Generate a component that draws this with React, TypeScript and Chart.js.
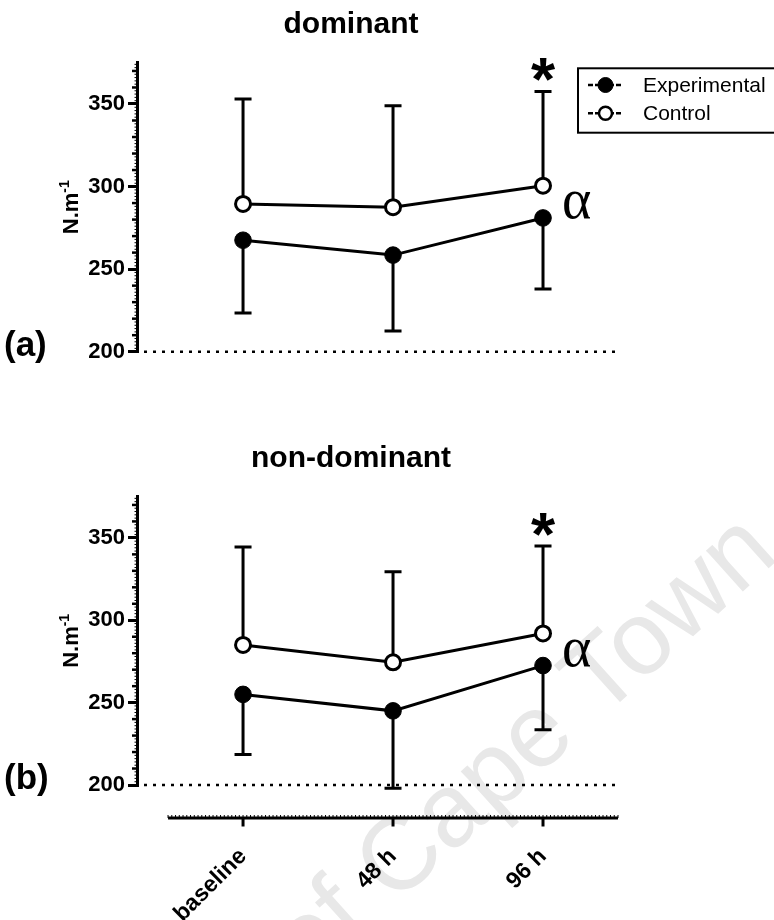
import React, { useEffect, useRef } from "react";
import { Chart, registerables } from "chart.js";
Chart.register(...registerables);

// ---------- data ----------
const categories = ["baseline", "48 h", "96 h"];
const yTickValues = [200, 250, 300, 350];
const seriesNames = ["Experimental", "Control"];

const domExperimental = [267.5, 258.5, 281];
const domExperimentalErr = [44, 46, 43];
const domControl = [289.5, 287.5, 300.5];
const domControlErr = [63.5, 61.5, 57];

const nonDomExperimental = [255, 245, 272.5];
const nonDomExperimentalErr = [36.5, 47, 39];
const nonDomControl = [285, 274.5, 292];
const nonDomControlErr = [59.5, 55, 53];

const SANS = "'Liberation Sans', Arial, Helvetica, sans-serif";
const SERIF = "'Liberation Serif', 'Times New Roman', serif";

type PanelCfg = {
  title: string;
  tag: string;
  exp: number[];
  expErr: number[];
  ctrl: number[];
  ctrlErr: number[];
  legend: boolean;
  xAxis: boolean;
  watermark: boolean;
  markIndex: number;
  height: number;
  padTop: number;
  padBottom: number;
  xAxisHeight: number;
  offsetY: number;
};

function decoPlugin(cfg: PanelCfg) {
  return {
    id: "deco",
    beforeDraw(chart: any) {
      if (!cfg.watermark) return;
      const ctx = chart.ctx;
      ctx.save();
      ctx.font = `104px ${SANS}`;
      ctx.fillStyle = "#e8e8e8";
      const pre = "University of Cape ";
      const full = pre + "Town";
      const w = ctx.measureText(pre).width;
      const ang = (-42 * Math.PI) / 180;
      const tx = 600;
      const ty = 720 - cfg.offsetY;
      ctx.translate(tx - w * Math.cos(ang), ty - w * Math.sin(ang));
      ctx.rotate(ang);
      ctx.fillText(full, 0, 0);
      ctx.restore();
    },
    beforeDatasetsDraw(chart: any) {
      const ctx = chart.ctx;
      const xs = chart.scales.x;
      const ys = chart.scales.y;
      const ca = chart.chartArea;
      ctx.save();
      // dotted baseline at 200
      const y0 = ys.getPixelForValue(200);
      ctx.strokeStyle = "#000";
      ctx.lineWidth = 2.5;
      ctx.setLineDash([3, 6]);
      ctx.beginPath();
      ctx.moveTo(ca.left + 7, y0);
      ctx.lineTo(xs.getPixelForValue(2.5), y0);
      ctx.stroke();
      ctx.setLineDash([]);
      // error bars
      ctx.lineWidth = 3;
      chart.data.datasets.forEach((ds: any) => {
        ds.data.forEach((p: any, i: number) => {
          const px = xs.getPixelForValue(p.x);
          const py = ys.getPixelForValue(p.y);
          const ey = ys.getPixelForValue(p.y + ds.errDir * ds.errors[i]);
          ctx.beginPath();
          ctx.moveTo(px, py);
          ctx.lineTo(px, ey);
          ctx.moveTo(px - 8.5, ey);
          ctx.lineTo(px + 8.5, ey);
          ctx.stroke();
        });
      });
      ctx.restore();
    },
    afterDraw(chart: any) {
      const ctx = chart.ctx;
      const xs = chart.scales.x;
      const ys = chart.scales.y;
      const ca = chart.chartArea;
      ctx.save();
      ctx.fillStyle = "#000";
      ctx.strokeStyle = "#000";
      // minor y ticks
      for (let v = 202; v <= 374; v += 2) {
        if (v % 50 === 0) continue;
        const py = ys.getPixelForValue(v);
        const major = v % 10 === 0;
        ctx.lineWidth = major ? 2.5 : 1;
        ctx.beginPath();
        ctx.moveTo(ca.left - (major ? 5 : 2.5), py);
        ctx.lineTo(ca.left, py);
        ctx.stroke();
      }
      // title
      ctx.font = `bold 30px ${SANS}`;
      ctx.textAlign = "center";
      ctx.textBaseline = "alphabetic";
      ctx.fillText(cfg.title, 351, ca.top - 29.5);
      // panel tag
      ctx.font = `bold 35px ${SANS}`;
      ctx.textAlign = "left";
      ctx.fillText(cfg.tag, 4, ys.getPixelForValue(200) + 4);
      // y axis title
      const cy = (ca.top + ca.bottom) / 2;
      ctx.save();
      ctx.translate(78, cy);
      ctx.rotate(-Math.PI / 2);
      ctx.font = `bold 22px ${SANS}`;
      const main = "N.m";
      const sup = "-1";
      const w1 = ctx.measureText(main).width;
      ctx.font = `bold 14px ${SANS}`;
      const w2 = ctx.measureText(sup).width;
      const start = -(w1 + w2) / 2;
      ctx.font = `bold 22px ${SANS}`;
      ctx.textAlign = "left";
      ctx.fillText(main, start, 0);
      ctx.font = `bold 14px ${SANS}`;
      ctx.fillText(sup, start + w1, -9.5);
      ctx.restore();
      // asterisk and alpha on control series
      const ctrlDs: any = chart.data.datasets[1];
      const k = cfg.markIndex;
      const cpx = xs.getPixelForValue(k);
      const cpy = ys.getPixelForValue(ctrlDs.data[k].y);
      const capY = ys.getPixelForValue(ctrlDs.data[k].y + ctrlDs.errors[k]);
      ctx.font = `bold 62px ${SANS}`;
      ctx.textAlign = "center";
      ctx.textBaseline = "alphabetic";
      const am = ctx.measureText("*");
      const acy = capY - 22;
      ctx.fillText("*", cpx, acy - (am.actualBoundingBoxDescent - am.actualBoundingBoxAscent) / 2);
      ctx.font = `56px ${SERIF}`;
      ctx.textAlign = "left";
      const al = ctx.measureText("\u03b1");
      ctx.fillText("\u03b1", cpx + 19, cpy + 5.5 + al.actualBoundingBoxAscent);
      // legend
      if (cfg.legend) {
        ctx.lineWidth = 2;
        ctx.strokeRect(578, 68.3, 220, 64.4);
        const rows = [85, 113.3];
        chart.data.datasets.forEach((ds: any, i: number) => {
          const ry = rows[i];
          ctx.lineWidth = 2.5;
          ctx.setLineDash([5, 2]);
          ctx.beginPath();
          ctx.moveTo(588, ry);
          ctx.lineTo(623, ry);
          ctx.stroke();
          ctx.setLineDash([]);
          ctx.beginPath();
          ctx.arc(605.5, ry, i === 0 ? 7.5 : 6.5, 0, Math.PI * 2);
          ctx.fillStyle = ds.pointBackgroundColor;
          ctx.fill();
          ctx.lineWidth = i === 0 ? 1 : 2.5;
          ctx.stroke();
          ctx.fillStyle = "#000";
          ctx.font = `21px ${SANS}`;
          ctx.textAlign = "left";
          ctx.textBaseline = "middle";
          ctx.fillText(ds.label, 643, ry + 1);
        });
      }
      // separate x axis
      if (cfg.xAxis) {
        const ay = ca.bottom + 33;
        const xl = xs.getPixelForValue(-0.5);
        const xr = xs.getPixelForValue(2.5);
        ctx.lineWidth = 3;
        ctx.beginPath();
        ctx.moveTo(xl, ay);
        ctx.lineTo(xr, ay);
        ctx.stroke();
        ctx.lineWidth = 1;
        for (let v = -0.5; v <= 2.5001; v += 1 / 40) {
          const px = xs.getPixelForValue(v);
          ctx.beginPath();
          ctx.moveTo(px, ay - 3);
          ctx.lineTo(px, ay);
          ctx.stroke();
        }
        ctx.lineWidth = 3;
        categories.forEach((_, i) => {
          const px = xs.getPixelForValue(i);
          ctx.beginPath();
          ctx.moveTo(px, ay);
          ctx.lineTo(px, ay + 8.5);
          ctx.stroke();
        });
      }
      ctx.restore();
    },
  };
}

function buildChart(canvas: HTMLCanvasElement, cfg: PanelCfg) {
  const datasets: any[] = [
    {
      label: seriesNames[0],
      data: cfg.exp.map((v, i) => ({ x: i, y: v })),
      errors: cfg.expErr,
      errDir: -1,
      borderColor: "#000",
      borderWidth: 3,
      pointRadius: 8.3,
      pointStyle: "circle",
      pointBackgroundColor: "#000",
      pointBorderColor: "#000",
      pointBorderWidth: 1,
      fill: false,
      tension: 0,
    },
    {
      label: seriesNames[1],
      data: cfg.ctrl.map((v, i) => ({ x: i, y: v })),
      errors: cfg.ctrlErr,
      errDir: 1,
      borderColor: "#000",
      borderWidth: 3,
      pointRadius: 7.5,
      pointStyle: "circle",
      pointBackgroundColor: "#fff",
      pointBorderColor: "#000",
      pointBorderWidth: 3,
      fill: false,
      tension: 0,
    },
  ];
  return new Chart(canvas, {
    type: "line",
    data: { datasets },
    options: {
      responsive: false,
      animation: false,
      events: [],
      layout: { padding: { left: 0, right: 156, top: cfg.padTop, bottom: cfg.padBottom } },
      scales: {
        x: {
          type: "linear",
          min: -0.707,
          max: 2.5,
          display: cfg.xAxis,
          afterBuildTicks: (s: any) => {
            s.ticks = categories.map((_, i) => ({ value: i }));
          },
          afterFit: (s: any) => {
            if (cfg.xAxis) s.height = cfg.xAxisHeight;
          },
          ticks: {
            autoSkip: false,
            maxRotation: 45,
            minRotation: 45,
            padding: 58,
            color: "#000",
            font: { family: SANS, size: 23, weight: "bold" },
            callback: (v: any) => categories[Math.round(Number(v))] ?? "",
          },
          grid: { display: false, drawTicks: false },
          border: { display: false },
        },
        y: {
          type: "linear",
          min: 200,
          max: 375,
          afterBuildTicks: (s: any) => {
            s.ticks = yTickValues.map((v) => ({ value: v }));
          },
          afterFit: (s: any) => {
            s.width = 137;
          },
          ticks: {
            color: "#000",
            padding: 3,
            font: { family: SANS, size: 22, weight: "bold" },
          },
          grid: {
            drawOnChartArea: false,
            drawTicks: true,
            tickLength: 9,
            lineWidth: 3,
            tickWidth: 3,
            color: "#000",
          },
          border: { display: true, width: 3, color: "#000" },
        },
      },
      plugins: {
        legend: { display: false },
        tooltip: { enabled: false },
        title: { display: false },
      },
    } as any,
    plugins: [decoPlugin(cfg)],
  });
}

const topCfg: PanelCfg = {
  title: "dominant",
  tag: "(a)",
  exp: domExperimental,
  expErr: domExperimentalErr,
  ctrl: domControl,
  ctrlErr: domControlErr,
  legend: true,
  xAxis: false,
  watermark: false,
  markIndex: 2,
  height: 400,
  padTop: 62.7,
  padBottom: 400 - 351.7,
  xAxisHeight: 0,
  offsetY: 0,
};

const bottomCfg: PanelCfg = {
  title: "non-dominant",
  tag: "(b)",
  exp: nonDomExperimental,
  expErr: nonDomExperimentalErr,
  ctrl: nonDomControl,
  ctrlErr: nonDomControlErr,
  legend: false,
  xAxis: true,
  watermark: true,
  markIndex: 2,
  height: 520,
  padTop: 96.7,
  padBottom: 0,
  xAxisHeight: 135,
  offsetY: 400,
};

export default function App() {
  const topRef = useRef<HTMLCanvasElement>(null);
  const botRef = useRef<HTMLCanvasElement>(null);
  useEffect(() => {
    document.body.style.margin = "0";
    const a = buildChart(topRef.current!, topCfg);
    const b = buildChart(botRef.current!, bottomCfg);
    return () => {
      a.destroy();
      b.destroy();
    };
  }, []);
  return (
    <div style={{ position: "relative", width: 774, height: 920, background: "#fff", overflow: "hidden" }}>
      <canvas ref={topRef} width={774} height={400} style={{ position: "absolute", left: 0, top: 0 }} />
      <canvas ref={botRef} width={774} height={520} style={{ position: "absolute", left: 0, top: 400 }} />
    </div>
  );
}
